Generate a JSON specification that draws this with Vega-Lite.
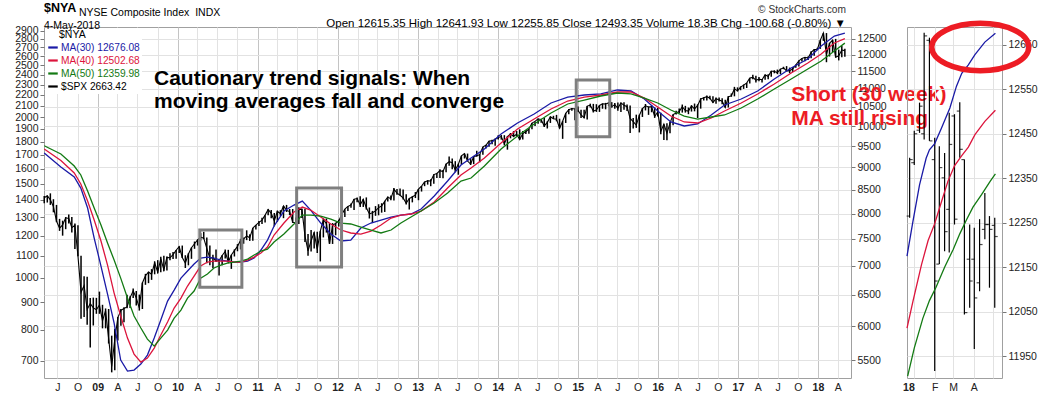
{
"$schema":"https://vega.github.io/schema/vega-lite/v6.json",
"padding":{"left":14,"top":1,"right":2,"bottom":0},
"bounds":"flush",
"spacing":56,
"title":{"text":"$NYA","subtitle":"4-May-2018","anchor":"start","frame":"group","offset":-27,"font":"Liberation Sans","fontSize":12.5,"fontWeight":"bold","color":"#000000","subtitleFont":"Liberation Sans","subtitleFontSize":10.5,"subtitleColor":"#000000","subtitlePadding":6.5},
"datasets":{
"spx":[
{"d":"2008-05-02","h":1423,"l":1380,"c":1413},{"d":"2008-05-16","h":1426,"l":1384,"c":1425},{"d":"2008-05-30","h":1440,"l":1370,"c":1400},{"d":"2008-06-13","h":1404,"l":1327,"c":1360},{"d":"2008-06-27","h":1370,"l":1272,"c":1278},{"d":"2008-07-11","h":1290,"l":1225,"c":1239},{"d":"2008-07-25","h":1280,"l":1200,"c":1257},{"d":"2008-08-08","h":1300,"l":1234,"c":1296},{"d":"2008-08-22","h":1314,"l":1264,"c":1292},{"d":"2008-09-05","h":1300,"l":1217,"c":1242},{"d":"2008-09-19","h":1265,"l":1133,"c":1255},{"d":"2008-10-03","h":1255,"l":1098,"c":1099},{"d":"2008-10-17","h":1100,"l":839,"c":940},{"d":"2008-10-31","h":1008,"l":845,"c":968},{"d":"2008-11-14","h":1005,"l":818,"c":873},{"d":"2008-11-28","h":917,"l":741,"c":896},{"d":"2008-12-12","h":919,"l":815,"c":879},{"d":"2008-12-26","h":918,"l":857,"c":872},
{"d":"2009-01-09","h":943,"l":857,"c":890},{"d":"2009-01-23","h":891,"l":805,"c":831},{"d":"2009-02-06","h":877,"l":805,"c":869},{"d":"2009-02-20","h":875,"l":754,"c":770},{"d":"2009-03-06","h":780,"l":666,"c":683},{"d":"2009-03-20","h":804,"l":672,"c":768},{"d":"2009-04-03","h":845,"l":764,"c":843},{"d":"2009-04-17","h":875,"l":814,"c":870},{"d":"2009-05-01","h":882,"l":826,"c":877},{"d":"2009-05-15","h":930,"l":878,"c":883},{"d":"2009-05-29","h":924,"l":879,"c":919},{"d":"2009-06-12","h":956,"l":917,"c":946},{"d":"2009-06-26","h":946,"l":888,"c":918},{"d":"2009-07-10","h":931,"l":869,"c":879},{"d":"2009-07-24","h":980,"l":875,"c":979},{"d":"2009-08-07","h":1018,"l":971,"c":1010},{"d":"2009-08-21","h":1027,"l":978,"c":1026},{"d":"2009-09-04","h":1039,"l":992,"c":1016},{"d":"2009-09-18","h":1074,"l":1016,"c":1068},{"d":"2009-10-02","h":1080,"l":1020,"c":1025},{"d":"2009-10-16","h":1096,"l":1025,"c":1087},{"d":"2009-10-30","h":1101,"l":1029,"c":1036},{"d":"2009-11-13","h":1097,"l":1033,"c":1093},{"d":"2009-11-27","h":1113,"l":1079,"c":1091},{"d":"2009-12-11","h":1119,"l":1085,"c":1106},{"d":"2009-12-25","h":1128,"l":1086,"c":1127},
{"d":"2010-01-08","h":1146,"l":1114,"c":1145},{"d":"2010-01-22","h":1150,"l":1090,"c":1092},{"d":"2010-02-05","h":1103,"l":1044,"c":1066},{"d":"2010-02-19","h":1112,"l":1056,"c":1109},{"d":"2010-03-05","h":1140,"l":1086,"c":1139},{"d":"2010-03-19","h":1170,"l":1134,"c":1159},{"d":"2010-04-02","h":1181,"l":1150,"c":1178},{"d":"2010-04-16","h":1213,"l":1175,"c":1192},{"d":"2010-04-30","h":1220,"l":1182,"c":1187},{"d":"2010-05-14","h":1190,"l":1066,"c":1136},{"d":"2010-05-28","h":1150,"l":1056,"c":1089},{"d":"2010-06-11","h":1105,"l":1043,"c":1091},{"d":"2010-06-25","h":1131,"l":1071,"c":1076},{"d":"2010-07-09","h":1080,"l":1011,"c":1078},{"d":"2010-07-23","h":1103,"l":1056,"c":1102},{"d":"2010-08-06","h":1130,"l":1088,"c":1121},{"d":"2010-08-20","h":1129,"l":1069,"c":1071},{"d":"2010-09-03","h":1105,"l":1040,"c":1104},{"d":"2010-09-17","h":1131,"l":1097,"c":1125},{"d":"2010-10-01","h":1157,"l":1122,"c":1146},{"d":"2010-10-15","h":1184,"l":1131,"c":1176},{"d":"2010-10-29","h":1190,"l":1159,"c":1183},{"d":"2010-11-12","h":1228,"l":1177,"c":1199},{"d":"2010-11-26","h":1207,"l":1173,"c":1189},{"d":"2010-12-10","h":1240,"l":1174,"c":1240},{"d":"2010-12-24","h":1256,"l":1232,"c":1256},
{"d":"2011-01-07","h":1278,"l":1251,"c":1271},{"d":"2011-01-21","h":1296,"l":1262,"c":1283},{"d":"2011-02-04","h":1311,"l":1270,"c":1311},{"d":"2011-02-18","h":1344,"l":1311,"c":1343},{"d":"2011-03-04","h":1340,"l":1294,"c":1321},{"d":"2011-03-18","h":1323,"l":1249,"c":1279},{"d":"2011-04-01","h":1337,"l":1274,"c":1332},{"d":"2011-04-15","h":1339,"l":1306,"c":1320},{"d":"2011-04-29","h":1364,"l":1294,"c":1364},{"d":"2011-05-13","h":1370,"l":1329,"c":1338},{"d":"2011-05-27","h":1346,"l":1311,"c":1331},{"d":"2011-06-10","h":1346,"l":1268,"c":1271},{"d":"2011-06-24","h":1298,"l":1258,"c":1268},{"d":"2011-07-08","h":1356,"l":1262,"c":1344},{"d":"2011-07-22","h":1347,"l":1295,"c":1345},{"d":"2011-08-05","h":1347,"l":1168,"c":1199},{"d":"2011-08-19","h":1209,"l":1101,"c":1124},{"d":"2011-09-02","h":1230,"l":1121,"c":1174},{"d":"2011-09-16","h":1218,"l":1136,"c":1216},{"d":"2011-09-30","h":1220,"l":1114,"c":1131},{"d":"2011-10-14","h":1224,"l":1074,"c":1224},{"d":"2011-10-28","h":1293,"l":1191,"c":1285},{"d":"2011-11-11","h":1292,"l":1216,"c":1263},{"d":"2011-11-25","h":1266,"l":1158,"c":1159},{"d":"2011-12-09","h":1267,"l":1158,"c":1255},{"d":"2011-12-23","h":1269,"l":1202,"c":1265},
{"d":"2012-01-06","h":1285,"l":1248,"c":1278},{"d":"2012-01-20","h":1315,"l":1274,"c":1315},{"d":"2012-02-03","h":1345,"l":1300,"c":1345},{"d":"2012-02-17","h":1362,"l":1335,"c":1361},{"d":"2012-03-02","h":1378,"l":1354,"c":1370},{"d":"2012-03-16","h":1405,"l":1340,"c":1404},{"d":"2012-03-30","h":1414,"l":1386,"c":1408},{"d":"2012-04-13","h":1422,"l":1357,"c":1370},{"d":"2012-04-27","h":1406,"l":1358,"c":1403},{"d":"2012-05-11","h":1415,"l":1343,"c":1353},{"d":"2012-05-25","h":1355,"l":1292,"c":1318},{"d":"2012-06-08","h":1335,"l":1267,"c":1325},{"d":"2012-06-22","h":1363,"l":1307,"c":1335},{"d":"2012-07-06","h":1374,"l":1310,"c":1354},{"d":"2012-07-20","h":1380,"l":1325,"c":1363},{"d":"2012-08-03","h":1394,"l":1329,"c":1391},{"d":"2012-08-17","h":1419,"l":1390,"c":1418},{"d":"2012-08-31","h":1426,"l":1397,"c":1406},{"d":"2012-09-14","h":1474,"l":1396,"c":1466},{"d":"2012-09-28","h":1467,"l":1431,"c":1441},{"d":"2012-10-12","h":1470,"l":1426,"c":1428},{"d":"2012-10-26","h":1464,"l":1403,"c":1412},{"d":"2012-11-09","h":1434,"l":1373,"c":1380},{"d":"2012-11-23","h":1409,"l":1343,"c":1409},{"d":"2012-12-07","h":1424,"l":1385,"c":1418},{"d":"2012-12-21","h":1448,"l":1411,"c":1430},
{"d":"2013-01-04","h":1467,"l":1398,"c":1466},{"d":"2013-01-18","h":1486,"l":1451,"c":1486},{"d":"2013-02-01","h":1514,"l":1485,"c":1513},{"d":"2013-02-15","h":1524,"l":1495,"c":1520},{"d":"2013-03-01","h":1530,"l":1485,"c":1518},{"d":"2013-03-15","h":1564,"l":1501,"c":1561},{"d":"2013-03-29","h":1570,"l":1538,"c":1569},{"d":"2013-04-12","h":1597,"l":1539,"c":1588},{"d":"2013-04-26","h":1593,"l":1536,"c":1582},{"d":"2013-05-10","h":1635,"l":1577,"c":1633},{"d":"2013-05-24","h":1687,"l":1622,"c":1650},{"d":"2013-06-07","h":1674,"l":1598,"c":1643},{"d":"2013-06-21","h":1654,"l":1577,"c":1592},{"d":"2013-07-05","h":1635,"l":1560,"c":1632},{"d":"2013-07-19","h":1693,"l":1631,"c":1692},{"d":"2013-08-02","h":1709,"l":1673,"c":1709},{"d":"2013-08-16","h":1709,"l":1654,"c":1655},{"d":"2013-08-30","h":1669,"l":1627,"c":1633},{"d":"2013-09-13","h":1689,"l":1633,"c":1688},{"d":"2013-09-27","h":1730,"l":1687,"c":1692},{"d":"2013-10-11","h":1704,"l":1646,"c":1703},{"d":"2013-10-25","h":1759,"l":1700,"c":1759},{"d":"2013-11-08","h":1775,"l":1746,"c":1771},{"d":"2013-11-22","h":1805,"l":1760,"c":1804},{"d":"2013-12-06","h":1814,"l":1779,"c":1805},{"d":"2013-12-20","h":1823,"l":1767,"c":1818},
{"d":"2014-01-03","h":1849,"l":1815,"c":1831},{"d":"2014-01-17","h":1851,"l":1815,"c":1839},{"d":"2014-01-31","h":1850,"l":1770,"c":1783},{"d":"2014-02-14","h":1841,"l":1738,"c":1838},{"d":"2014-02-28","h":1867,"l":1825,"c":1859},{"d":"2014-03-14","h":1883,"l":1834,"c":1841},{"d":"2014-03-28","h":1883,"l":1839,"c":1857},{"d":"2014-04-11","h":1897,"l":1814,"c":1815},{"d":"2014-04-25","h":1884,"l":1815,"c":1863},{"d":"2014-05-09","h":1891,"l":1859,"c":1878},{"d":"2014-05-23","h":1902,"l":1862,"c":1900},{"d":"2014-06-06","h":1950,"l":1898,"c":1949},{"d":"2014-06-20","h":1963,"l":1925,"c":1963},{"d":"2014-07-04","h":1986,"l":1944,"c":1985},{"d":"2014-07-18","h":1986,"l":1952,"c":1978},{"d":"2014-08-01","h":1991,"l":1916,"c":1925},{"d":"2014-08-15","h":1964,"l":1904,"c":1955},{"d":"2014-08-29","h":2005,"l":1950,"c":2003},{"d":"2014-09-12","h":2011,"l":1983,"c":1985},{"d":"2014-09-26","h":2019,"l":1964,"c":1982},{"d":"2014-10-10","h":1986,"l":1905,"c":1906},{"d":"2014-10-24","h":1966,"l":1821,"c":1964},{"d":"2014-11-07","h":2034,"l":1950,"c":2032},{"d":"2014-11-21","h":2071,"l":2025,"c":2064},{"d":"2014-12-05","h":2079,"l":2055,"c":2075},{"d":"2014-12-19","h":2077,"l":1972,"c":2071},
{"d":"2015-01-02","h":2094,"l":2045,"c":2058},{"d":"2015-01-16","h":2064,"l":1992,"c":2019},{"d":"2015-01-30","h":2064,"l":1989,"c":1995},{"d":"2015-02-13","h":2097,"l":1980,"c":2097},{"d":"2015-02-27","h":2119,"l":2085,"c":2105},{"d":"2015-03-13","h":2117,"l":2040,"c":2053},{"d":"2015-03-27","h":2114,"l":2045,"c":2061},{"d":"2015-04-10","h":2103,"l":2045,"c":2102},{"d":"2015-04-24","h":2120,"l":2073,"c":2117},{"d":"2015-05-08","h":2126,"l":2068,"c":2116},{"d":"2015-05-22","h":2134,"l":2095,"c":2126},{"d":"2015-06-05","h":2133,"l":2082,"c":2092},{"d":"2015-06-19","h":2126,"l":2072,"c":2110},{"d":"2015-07-03","h":2130,"l":2056,"c":2077},{"d":"2015-07-17","h":2127,"l":2044,"c":2127},{"d":"2015-07-31","h":2132,"l":2063,"c":2104},{"d":"2015-08-14","h":2112,"l":2052,"c":2092},{"d":"2015-08-28","h":2103,"l":1867,"c":1989},{"d":"2015-09-11","h":1993,"l":1903,"c":1961},{"d":"2015-09-25","h":2021,"l":1909,"c":1931},{"d":"2015-10-09","h":2020,"l":1872,"c":2014},{"d":"2015-10-23","h":2080,"l":2001,"c":2075},{"d":"2015-11-06","h":2116,"l":2058,"c":2099},{"d":"2015-11-20","h":2093,"l":2019,"c":2089},{"d":"2015-12-04","h":2104,"l":2042,"c":2092},{"d":"2015-12-18","h":2085,"l":1993,"c":2005},
{"d":"2016-01-01","h":2082,"l":2005,"c":2044},{"d":"2016-01-15","h":2038,"l":1857,"c":1880},{"d":"2016-01-29","h":1940,"l":1812,"c":1940},{"d":"2016-02-12","h":1947,"l":1810,"c":1865},{"d":"2016-02-26","h":1963,"l":1865,"c":1948},{"d":"2016-03-11","h":2022,"l":1931,"c":2022},{"d":"2016-03-25","h":2056,"l":2022,"c":2036},{"d":"2016-04-08","h":2075,"l":2033,"c":2048},{"d":"2016-04-22","h":2111,"l":2039,"c":2092},{"d":"2016-05-06","h":2099,"l":2039,"c":2057},{"d":"2016-05-20","h":2084,"l":2025,"c":2052},{"d":"2016-06-03","h":2104,"l":2048,"c":2099},{"d":"2016-06-17","h":2120,"l":2050,"c":2071},{"d":"2016-07-01","h":2113,"l":1992,"c":2103},{"d":"2016-07-15","h":2169,"l":2074,"c":2162},{"d":"2016-07-29","h":2178,"l":2147,"c":2174},{"d":"2016-08-12","h":2194,"l":2148,"c":2184},{"d":"2016-08-26","h":2193,"l":2160,"c":2169},{"d":"2016-09-09","h":2188,"l":2127,"c":2128},{"d":"2016-09-23","h":2175,"l":2119,"c":2165},{"d":"2016-10-07","h":2175,"l":2139,"c":2153},{"d":"2016-10-21","h":2169,"l":2114,"c":2141},{"d":"2016-11-04","h":2154,"l":2084,"c":2085},{"d":"2016-11-18","h":2189,"l":2084,"c":2182},{"d":"2016-12-02","h":2214,"l":2183,"c":2192},{"d":"2016-12-16","h":2278,"l":2187,"c":2258},{"d":"2016-12-30","h":2273,"l":2233,"c":2239},
{"d":"2017-01-13","h":2282,"l":2245,"c":2275},{"d":"2017-01-27","h":2301,"l":2258,"c":2295},{"d":"2017-02-10","h":2317,"l":2267,"c":2316},{"d":"2017-02-24","h":2367,"l":2311,"c":2367},{"d":"2017-03-10","h":2401,"l":2354,"c":2373},{"d":"2017-03-24","h":2390,"l":2322,"c":2344},{"d":"2017-04-07","h":2378,"l":2334,"c":2355},{"d":"2017-04-21","h":2356,"l":2322,"c":2349},{"d":"2017-05-05","h":2399,"l":2348,"c":2399},{"d":"2017-05-19","h":2405,"l":2353,"c":2382},{"d":"2017-06-02","h":2440,"l":2380,"c":2439},{"d":"2017-06-16","h":2447,"l":2415,"c":2433},{"d":"2017-06-30","h":2454,"l":2406,"c":2423},{"d":"2017-07-14","h":2463,"l":2407,"c":2459},{"d":"2017-07-28","h":2484,"l":2458,"c":2472},{"d":"2017-08-11","h":2491,"l":2437,"c":2441},{"d":"2017-08-25","h":2475,"l":2417,"c":2443},{"d":"2017-09-08","h":2480,"l":2428,"c":2461},{"d":"2017-09-22","h":2508,"l":2474,"c":2502},{"d":"2017-10-06","h":2552,"l":2488,"c":2549},{"d":"2017-10-20","h":2576,"l":2542,"c":2575},{"d":"2017-11-03","h":2588,"l":2544,"c":2588},{"d":"2017-11-17","h":2597,"l":2557,"c":2579},{"d":"2017-12-01","h":2657,"l":2576,"c":2642},{"d":"2017-12-15","h":2679,"l":2605,"c":2675},{"d":"2017-12-29","h":2695,"l":2673,"c":2674},
{"d":"2018-01-12","h":2787,"l":2683,"c":2786},{"d":"2018-01-26","h":2873,"l":2777,"c":2873},{"d":"2018-02-09","h":2872,"l":2533,"c":2620},{"d":"2018-02-23","h":2754,"l":2596,"c":2747},{"d":"2018-03-09","h":2789,"l":2647,"c":2786},{"d":"2018-03-23","h":2801,"l":2586,"c":2588},{"d":"2018-04-06","h":2674,"l":2553,"c":2604},{"d":"2018-04-20","h":2717,"l":2587,"c":2670},{"d":"2018-05-04","h":2683,"l":2594,"c":2663}
],
"ma":[
{"d":"2008-05-02","ma30":9337,"ma40":9432,"ma50":9512},{"d":"2008-07-17","ma30":9008,"ma40":9159,"ma50":9313},{"d":"2008-09-16","ma30":8781,"ma40":8872,"ma50":9032},{"d":"2008-10-16","ma30":8537,"ma40":8626,"ma50":8827},{"d":"2008-11-16","ma30":8113,"ma40":8259,"ma50":8473},{"d":"2008-12-16","ma30":7514,"ma40":7868,"ma50":8113},{"d":"2009-01-16","ma30":6996,"ma40":7458,"ma50":7769},{"d":"2009-02-15","ma30":6513,"ma40":7014,"ma50":7420},{"d":"2009-03-17","ma30":6049,"ma40":6530,"ma50":7104},{"d":"2009-04-16","ma30":5503,"ma40":6158,"ma50":6784},{"d":"2009-05-17","ma30":5351,"ma40":5821,"ma50":6447},{"d":"2009-06-16","ma30":5364,"ma40":5588,"ma50":6158},{"d":"2009-07-17","ma30":5447,"ma40":5475,"ma50":5972},{"d":"2009-08-16","ma30":5574,"ma40":5531,"ma50":5806},{"d":"2009-09-16","ma30":5821,"ma40":5674,"ma50":5703},{"d":"2009-10-16","ma30":6095,"ma40":5866,"ma50":5821},{"d":"2009-11-16","ma30":6398,"ma40":6064,"ma50":5941},{"d":"2009-12-16","ma30":6580,"ma40":6284,"ma50":6126},
{"d":"2010-01-16","ma30":6784,"ma40":6447,"ma50":6252},{"d":"2010-02-15","ma30":6908,"ma40":6648,"ma50":6447},{"d":"2010-03-17","ma30":7032,"ma40":6820,"ma50":6564},{"d":"2010-04-16","ma30":7140,"ma40":6996,"ma50":6784},{"d":"2010-05-17","ma30":7158,"ma40":7068,"ma50":6855},{"d":"2010-06-16","ma30":7140,"ma40":7086,"ma50":6961},{"d":"2010-07-17","ma30":7104,"ma40":7086,"ma50":7014},{"d":"2010-08-16","ma30":7086,"ma40":7086,"ma50":7050},{"d":"2010-09-16","ma30":7068,"ma40":7068,"ma50":7068},{"d":"2010-10-16","ma30":7068,"ma40":7068,"ma50":7086},{"d":"2010-11-16","ma30":7086,"ma40":7104,"ma50":7122},{"d":"2010-12-16","ma30":7140,"ma40":7158,"ma50":7195},
{"d":"2011-01-16","ma30":7288,"ma40":7232,"ma50":7269},{"d":"2011-02-15","ma30":7476,"ma40":7344,"ma50":7306},{"d":"2011-03-17","ma30":7749,"ma40":7573,"ma50":7439},{"d":"2011-05-01","ma30":8051,"ma40":7808,"ma50":7592},{"d":"2011-06-16","ma30":8175,"ma40":8031,"ma50":7789},{"d":"2011-07-24","ma30":8259,"ma40":8134,"ma50":7969},{"d":"2011-08-31","ma30":8071,"ma40":8071,"ma50":7969},{"d":"2011-10-16","ma30":7808,"ma40":7929,"ma50":7949},{"d":"2011-12-01","ma30":7592,"ma40":7789,"ma50":7888},
{"d":"2012-01-16","ma30":7458,"ma40":7670,"ma50":7808},{"d":"2012-03-01","ma30":7476,"ma40":7612,"ma50":7789},{"d":"2012-04-16","ma30":7709,"ma40":7592,"ma50":7729},{"d":"2012-06-01","ma30":7808,"ma40":7650,"ma50":7670},{"d":"2012-07-17","ma30":7868,"ma40":7769,"ma50":7612},{"d":"2012-09-01","ma30":7929,"ma40":7908,"ma50":7670},{"d":"2012-10-16","ma30":7969,"ma40":7969,"ma50":7808},{"d":"2012-12-01","ma30":7990,"ma40":7990,"ma50":7929},
{"d":"2013-01-16","ma30":8092,"ma40":8051,"ma50":8051},{"d":"2013-03-17","ma30":8365,"ma40":8238,"ma50":8217},{"d":"2013-05-17","ma30":8692,"ma40":8537,"ma50":8430},{"d":"2013-07-17","ma30":9055,"ma40":8827,"ma50":8692},{"d":"2013-09-01","ma30":9218,"ma40":8985,"ma50":8759},{"d":"2013-11-01","ma30":9432,"ma40":9218,"ma50":9032},
{"d":"2014-01-16","ma30":9801,"ma40":9578,"ma50":9432},{"d":"2014-04-01","ma30":10080,"ma40":9926,"ma50":9751},{"d":"2014-06-16","ma30":10314,"ma40":10182,"ma50":10054},{"d":"2014-09-01","ma30":10608,"ma40":10446,"ma50":10340},{"d":"2014-11-16","ma30":10771,"ma40":10662,"ma50":10581},
{"d":"2015-01-31","ma30":10827,"ma40":10771,"ma50":10689},{"d":"2015-04-16","ma30":10855,"ma40":10827,"ma50":10799},{"d":"2015-07-01","ma30":10966,"ma40":10910,"ma50":10882},{"d":"2015-09-01","ma30":10938,"ma40":10910,"ma50":10855},{"d":"2015-11-01","ma30":10716,"ma40":10743,"ma50":10743},
{"d":"2016-01-01","ma30":10393,"ma40":10500,"ma50":10608},{"d":"2016-03-01","ma30":10106,"ma40":10261,"ma50":10420},{"d":"2016-05-01","ma30":10003,"ma40":10106,"ma50":10261},{"d":"2016-07-01","ma30":10054,"ma40":10080,"ma50":10182},{"d":"2016-09-01","ma30":10288,"ma40":10209,"ma50":10235},{"d":"2016-11-01","ma30":10554,"ma40":10393,"ma50":10288},
{"d":"2017-01-16","ma30":10716,"ma40":10608,"ma50":10473},{"d":"2017-04-01","ma30":10938,"ma40":10855,"ma50":10716},{"d":"2017-06-16","ma30":11277,"ma40":11135,"ma50":10994},{"d":"2017-09-01","ma30":11599,"ma40":11452,"ma50":11277},{"d":"2017-11-16","ma30":11869,"ma40":11749,"ma50":11569},
{"d":"2018-01-16","ma30":12270,"ma40":12022,"ma50":11809},{"d":"2018-03-17","ma30":12586,"ma40":12365,"ma50":12114},{"d":"2018-05-04","ma30":12676,"ma40":12503,"ma50":12360}
],
"ima":[
{"d":"2017-12-21","k":"ma30","v":12175},{"d":"2017-12-30","k":"ma30","v":12253},{"d":"2018-01-09","k":"ma30","v":12335},{"d":"2018-01-19","k":"ma30","v":12395},{"d":"2018-01-24","k":"ma30","v":12414},{"d":"2018-02-01","k":"ma30","v":12428},{"d":"2018-02-11","k":"ma30","v":12462},{"d":"2018-02-24","k":"ma30","v":12508},{"d":"2018-03-06","k":"ma30","v":12557},{"d":"2018-03-14","k":"ma30","v":12586},{"d":"2018-03-24","k":"ma30","v":12605},{"d":"2018-04-03","k":"ma30","v":12628},{"d":"2018-04-18","k":"ma30","v":12656},{"d":"2018-05-04","k":"ma30","v":12676},
{"d":"2017-12-21","k":"ma40","v":12013},{"d":"2017-12-30","k":"ma40","v":12073},{"d":"2018-01-12","k":"ma40","v":12156},{"d":"2018-01-22","k":"ma40","v":12210},{"d":"2018-02-01","k":"ma40","v":12248},{"d":"2018-02-11","k":"ma40","v":12296},{"d":"2018-02-21","k":"ma40","v":12343},{"d":"2018-03-03","k":"ma40","v":12378},{"d":"2018-03-14","k":"ma40","v":12401},{"d":"2018-03-24","k":"ma40","v":12420},{"d":"2018-04-03","k":"ma40","v":12448},{"d":"2018-04-18","k":"ma40","v":12478},{"d":"2018-05-04","k":"ma40","v":12503},
{"d":"2017-12-22","k":"ma50","v":11905},{"d":"2018-01-01","k":"ma50","v":11968},{"d":"2018-01-14","k":"ma50","v":12035},{"d":"2018-01-24","k":"ma50","v":12075},{"d":"2018-02-03","k":"ma50","v":12105},{"d":"2018-02-16","k":"ma50","v":12150},{"d":"2018-03-01","k":"ma50","v":12190},{"d":"2018-03-11","k":"ma50","v":12225},{"d":"2018-03-21","k":"ma50","v":12256},{"d":"2018-03-31","k":"ma50","v":12285},{"d":"2018-04-13","k":"ma50","v":12313},{"d":"2018-04-26","k":"ma50","v":12343},{"d":"2018-05-04","k":"ma50","v":12360}
],
"ibars":[
{"d":"2017-12-25","o":12265,"h":12396,"l":12261,"c":12392},{"d":"2018-01-01","o":12385,"h":12457,"l":12380,"c":12450},{"d":"2018-01-09","o":12458,"h":12520,"l":12452,"c":12512},{"d":"2018-01-16","o":12450,"h":12677,"l":12437,"c":12670},{"d":"2018-01-24","o":12660,"h":12666,"l":12434,"c":12434},{"d":"2018-02-01","o":12392,"h":12441,"l":11917,"c":12119},{"d":"2018-02-08","o":12157,"h":12422,"l":12157,"c":12374},{"d":"2018-02-16","o":12351,"h":12407,"l":12186,"c":12230},{"d":"2018-02-23","o":12280,"h":12497,"l":12183,"c":12426},{"d":"2018-03-03","o":12490,"h":12494,"l":12246,"c":12258},{"d":"2018-03-11","o":12501,"h":12521,"l":12396,"c":12415},{"d":"2018-03-18","o":12392,"h":12392,"l":12044,"c":12048},{"d":"2018-03-26","o":12168,"h":12246,"l":12059,"c":12119},{"d":"2018-04-02","o":12168,"h":12239,"l":11966,"c":12081},{"d":"2018-04-10","o":12115,"h":12258,"l":12096,"c":12201},{"d":"2018-04-18","o":12235,"h":12317,"l":12213,"c":12246},{"d":"2018-04-25","o":12246,"h":12265,"l":12104,"c":12235},{"d":"2018-05-03","o":12244,"h":12261,"l":12059,"c":12219}
],
"boxes":[
{"x1":"2010-04-12","x2":"2010-10-21","y1":961,"y2":1229},
{"x1":"2011-06-28","x2":"2012-01-19","y1":1048,"y2":1473},
{"x1":"2014-12-25","x2":"2015-05-27","y1":1837,"y2":2346}
],
"note1":[{"d":"2009-09-15","v":2296,"t":"Cautionary trend signals: When\nmoving averages fall and converge"}],
"note2":[{"d":"2017-09-01","v":2143,"t":"Short (30 week)\nMA still rising"}],
"ring":[{"d":"2018-04-11","v":12645}]
},
"hconcat":[
{
"width":807,"height":351,
"title":{"text":"NYSE Composite Index\u00a0\u00a0INDX","anchor":"start","frame":"group","offset":7,"dx":35,"font":"Liberation Sans","fontSize":10.5,"fontWeight":"normal","color":"#000000"},
"resolve":{"scale":{"y":"independent"}},
"layer":[
{"data":{"name":"spx"},
"layer":[
{"mark":{"type":"rule","strokeWidth":1.5},
"encoding":{
"x":{"field":"d","type":"temporal","scale":{"type":"utc","domain":[{"year":2008,"month":5,"date":1,"utc":true},{"year":2018,"month":6,"date":1,"utc":true}]},
"axis":{"title":null,"tickCount":{"interval":"month","step":3},"labelExpr":"utcmonth(datum.value)==0 ? utcFormat(datum.value,'%y') : (utcmonth(datum.value)==3 ? 'A' : (utcmonth(datum.value)==6 ? 'J' : 'O'))","labelFontWeight":{"condition":{"test":"utcmonth(datum.value)==0","value":"bold"},"value":"normal"},"grid":true,"gridColor":{"condition":{"test":"utcmonth(datum.value)==0","value":"#C4C4C4"},"value":"#E2E2E2"},"ticks":false,"domain":false,"labelPadding":4,"labelFontSize":10.5,"labelOverlap":false,"labelFlush":false,"labelColor":"#222222","labelFont":"Liberation Sans"}},
"y":{"field":"l","type":"quantitative","scale":{"type":"log","domain":[650,2948],"nice":false},
"axis":{"orient":"left","title":null,"values":[700,800,900,1000,1100,1200,1300,1400,1500,1600,1700,1800,1900,2000,2100,2200,2300,2400,2500,2600,2700,2800,2900],"format":"d","grid":false,"domain":false,"tickSize":4,"tickColor":"#777777","labelFontSize":10.5,"labelOverlap":false,"labelPadding":2,"labelColor":"#222222","labelFont":"Liberation Sans","labelBound":false}},
"y2":{"field":"h"},
"color":{"datum":"spx","type":"nominal","scale":{"domain":["ma30","ma40","ma50","spx"],"range":["#1A1AA6","#DC143C","#137A13","#000000"]},
"legend":{"orient":"top-left","offset":1,"padding":2,"fillColor":"#FFFFFF","title":"$NYA","titleFontSize":10.5,"titleFontWeight":"normal","titleColor":"#000000","titlePadding":1,"titleFont":"Liberation Sans","labelFont":"Liberation Sans","labelFontSize":10.2,"symbolType":"stroke","symbolSize":90,"symbolStrokeWidth":2.2,"rowPadding":1,"labelOffset":2,
"labelExpr":"datum.label=='ma30' ? 'MA(30) 12676.08' : (datum.label=='ma40' ? 'MA(40) 12502.68' : (datum.label=='ma50' ? 'MA(50) 12359.98' : '$SPX 2663.42'))",
"encode":{"labels":{"update":{"fill":{"signal":"datum.value=='ma30' ? '#1A1AA6' : (datum.value=='ma40' ? '#DC143C' : (datum.value=='ma50' ? '#137A13' : '#000000'))"}}},"title":{"update":{"dx":{"value":12}}}}}}
}},
{"mark":{"type":"line","color":"#000000","strokeWidth":1.1},
"encoding":{"x":{"field":"d","type":"temporal"},"y":{"field":"c","type":"quantitative"}}}
]},
{"data":{"name":"ma"},
"transform":[{"fold":["ma30","ma40","ma50"],"as":["k","v"]}],
"mark":{"type":"line","strokeWidth":1.3},
"encoding":{
"x":{"field":"d","type":"temporal"},
"y":{"field":"v","type":"quantitative","scale":{"type":"log","domain":[5257,12879],"nice":false},
"axis":{"orient":"right","title":null,"values":[5500,6000,6500,7000,7500,8000,8500,9000,9500,10000,10500,11000,11500,12000,12500],"format":"d","grid":true,"gridColor":"#E2E2E2","domain":false,"tickSize":4,"tickColor":"#777777","labelFontSize":10.5,"labelPadding":2,"labelOverlap":false,"labelColor":"#222222","labelFont":"Liberation Sans"}},
"color":{"field":"k","type":"nominal"}
}},
{"layer":[
{"data":{"name":"boxes"},
"mark":{"type":"rect","fillOpacity":0,"stroke":"#7F7F7F","strokeWidth":3},
"encoding":{"x":{"field":"x1","type":"temporal"},"x2":{"field":"x2"},
"y":{"field":"y1","type":"quantitative","scale":{"type":"log","domain":[650,2948],"nice":false},"axis":null},"y2":{"field":"y2"}}},
{"data":{"name":"note1"},
"mark":{"type":"text","font":"Liberation Sans","fontWeight":"bold","fontSize":21,"align":"left","baseline":"alphabetic","lineBreak":"\n","lineHeight":23,"color":"#000000"},
"encoding":{"x":{"field":"d","type":"temporal"},"y":{"field":"v","type":"quantitative"},"text":{"field":"t"}}},
{"data":{"name":"note2"},
"mark":{"type":"text","font":"Liberation Sans","fontWeight":"bold","fontSize":21,"align":"left","baseline":"alphabetic","lineBreak":"\n","lineHeight":23.5,"color":"#EC1C24"},
"encoding":{"x":{"field":"d","type":"temporal"},"y":{"field":"v","type":"quantitative"},"text":{"field":"t"}}}
]}
]
},
{
"width":95,"height":351,
"title":{"text":"\u00a9 StockCharts.com","subtitle":"Open 12615.35 High 12641.93 Low 12255.85 Close 12493.35 Volume 18.3B Chg -100.68 (-0.80%) \u25bc","anchor":"end","frame":"group","offset":-17,"dx":-156,"font":"Liberation Sans","fontSize":10.2,"fontWeight":"normal","color":"#333333","subtitleFont":"Liberation Sans","subtitleFontSize":11.5,"subtitleColor":"#000000","subtitlePadding":3},
"layer":[
{"data":{"name":"ibars"},
"layer":[
{"mark":{"type":"rule","strokeWidth":1.2,"color":"#000000"},
"encoding":{
"x":{"field":"d","type":"temporal","scale":{"type":"utc","domain":[{"year":2017,"month":12,"date":21,"utc":true},{"year":2018,"month":5,"date":14,"utc":true}]},
"axis":{"title":null,"tickCount":{"interval":"month","step":1},"labelExpr":"['18','F','M','A','','','','','','','',''][utcmonth(datum.value)]","labelFontWeight":{"condition":{"test":"utcmonth(datum.value)==0","value":"bold"},"value":"normal"},"labelAlign":{"condition":{"test":"utcmonth(datum.value)==0","value":"right"},"value":"center"},"grid":true,"gridColor":"#E2E2E2","ticks":false,"domain":false,"labelPadding":4,"labelFontSize":10.5,"labelOverlap":false,"labelFlush":false,"labelBound":false,"labelColor":"#222222","labelFont":"Liberation Sans"}},
"y":{"field":"l","type":"quantitative","scale":{"domain":[11901,12690],"nice":false,"zero":false},
"axis":{"orient":"right","title":null,"values":[11950,12000,12050,12100,12150,12200,12250,12300,12350,12400,12450,12500,12550,12600,12650],"format":"d","grid":true,"gridColor":"#E2E2E2","domain":false,"tickSize":4,"tickColor":"#777777","labelFontSize":10.5,"labelPadding":2,"labelOverlap":false,"labelColor":"#222222","labelFont":"Liberation Sans"}},
"y2":{"field":"h"}}},
{"mark":{"type":"tick","orient":"horizontal","size":3,"thickness":1.2,"color":"#000000","xOffset":-1.5},
"encoding":{"x":{"field":"d","type":"temporal"},"y":{"field":"o","type":"quantitative"}}},
{"mark":{"type":"tick","orient":"horizontal","size":3,"thickness":1.2,"color":"#000000","xOffset":1.5},
"encoding":{"x":{"field":"d","type":"temporal"},"y":{"field":"c","type":"quantitative"}}}
]},
{"data":{"name":"ima"},
"mark":{"type":"line","strokeWidth":1.3},
"encoding":{"x":{"field":"d","type":"temporal"},"y":{"field":"v","type":"quantitative"},
"color":{"field":"k","type":"nominal","scale":{"domain":["ma30","ma40","ma50"],"range":["#1A1AA6","#DC143C","#137A13"]},"legend":null}}},
{"data":{"name":"ring"},
"mark":{"type":"point","shape":"M-1,0C-1,-0.271,-0.552,-0.49,0,-0.49C0.552,-0.49,1,-0.271,1,0C1,0.271,0.552,0.49,0,0.49C-0.552,0.49,-1,0.271,-1,0Z","size":9409,"filled":false,"stroke":"#ED1C24","color":"#ED1C24","strokeWidth":5.5,"opacity":1},
"encoding":{"x":{"field":"d","type":"temporal"},"y":{"field":"v","type":"quantitative"}}}
]
}
],
"resolve":{"scale":{"color":"independent","x":"independent","y":"independent"},"legend":{"color":"independent"}},
"config":{"font":"Liberation Sans","view":{"stroke":"#A0A0A0"}}
}
